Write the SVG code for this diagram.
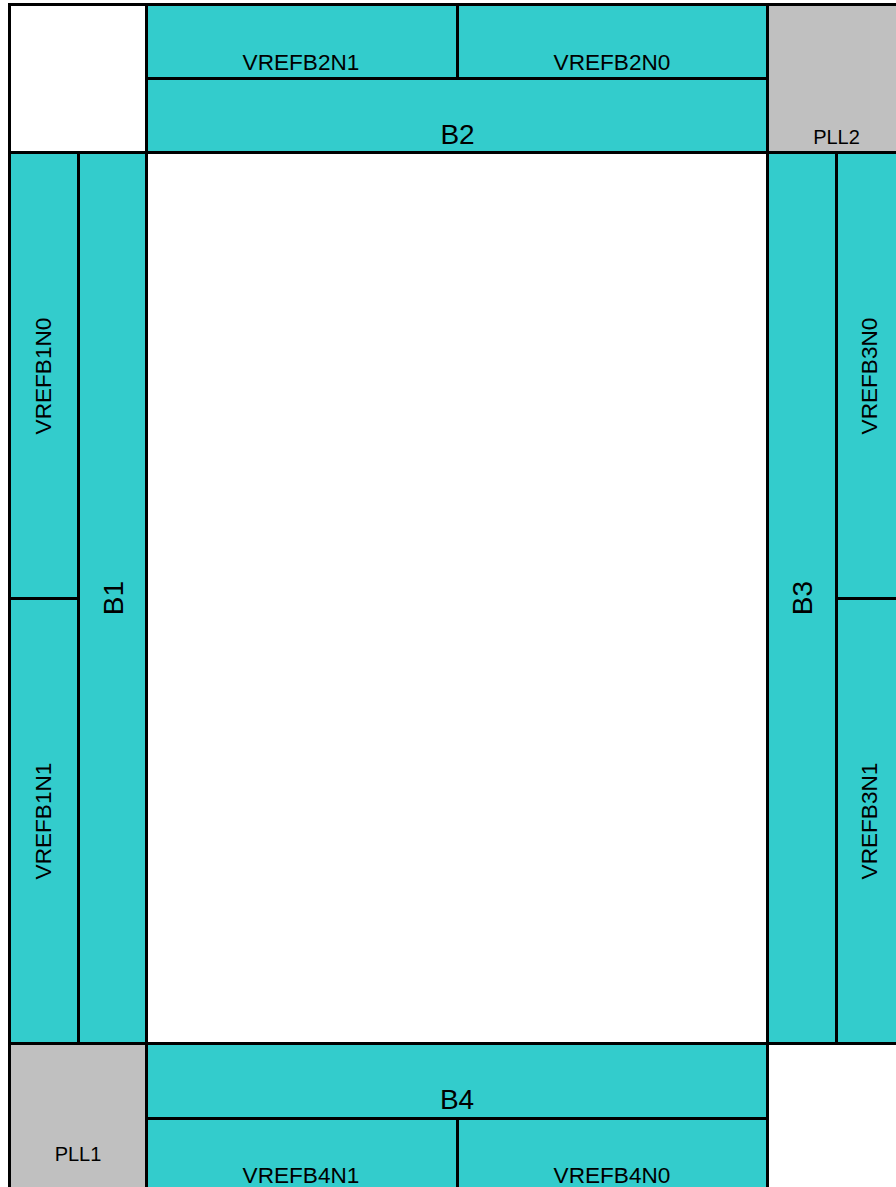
<svg xmlns="http://www.w3.org/2000/svg" width="896" height="1187" viewBox="0 0 896 1187">
<style>
.c{fill:#33CCCC;stroke:#000;stroke-width:3}
.g{fill:#C0C0C0;stroke:#000;stroke-width:3}
.w{fill:#FFFFFF;stroke:#000;stroke-width:3}
text{font-family:"Liberation Sans",Arial,sans-serif;fill:#000;text-anchor:middle}
.v{font-size:22.6px}
.b{font-size:28px}
.p{font-size:20px}
</style>
<rect x="0" y="0" width="896" height="1187" fill="#FFFFFF"/>
<g id="corner-tl"><rect class="w" x="9.5" y="4.5" width="137" height="148"/></g>
<g id="VREFB2N1"><rect class="c" x="146.5" y="4.5" width="311" height="74"/><text class="v" x="301" y="70">VREFB2N1</text></g>
<g id="VREFB2N0"><rect class="c" x="457.5" y="4.5" width="310" height="74"/><text class="v" x="612" y="70">VREFB2N0</text></g>
<g id="B2"><rect class="c" x="146.5" y="78.5" width="621" height="74"/><text class="b" x="457.5" y="144">B2</text></g>
<g id="PLL2"><rect class="g" x="767.5" y="4.5" width="137" height="148"/><text class="p" x="836.5" y="144">PLL2</text></g>
<g id="VREFB1N0"><rect class="c" x="9.5" y="152.5" width="69" height="446"/><text class="v" transform="translate(51,376) rotate(-90)">VREFB1N0</text></g>
<g id="VREFB1N1"><rect class="c" x="9.5" y="598.5" width="69" height="445"/><text class="v" transform="translate(51,821) rotate(-90)">VREFB1N1</text></g>
<g id="B1"><rect class="c" x="78.5" y="152.5" width="68" height="891"/><text class="b" transform="translate(123,598) rotate(-90)">B1</text></g>
<g id="core"><rect class="w" x="146.5" y="152.5" width="621" height="891"/></g>
<g id="B3"><rect class="c" x="767.5" y="152.5" width="69" height="891"/><text class="b" transform="translate(812,598) rotate(-90)">B3</text></g>
<g id="VREFB3N0"><rect class="c" x="836.5" y="152.5" width="69" height="446"/><text class="v" transform="translate(877,376) rotate(-90)">VREFB3N0</text></g>
<g id="VREFB3N1"><rect class="c" x="836.5" y="598.5" width="69" height="445"/><text class="v" transform="translate(877,821) rotate(-90)">VREFB3N1</text></g>
<g id="PLL1"><rect class="g" x="9.5" y="1043.5" width="137" height="148"/><text class="p" x="78" y="1161">PLL1</text></g>
<g id="B4"><rect class="c" x="146.5" y="1043.5" width="621" height="75"/><text class="b" x="457" y="1109">B4</text></g>
<g id="VREFB4N1"><rect class="c" x="146.5" y="1118.5" width="311" height="74"/><text class="v" x="301" y="1183">VREFB4N1</text></g>
<g id="VREFB4N0"><rect class="c" x="457.5" y="1118.5" width="310" height="74"/><text class="v" x="612" y="1183">VREFB4N0</text></g>
<g id="corner-br"><rect class="w" x="767.5" y="1043.5" width="137" height="148"/></g>
<g id="connectors"></g>
</svg>
